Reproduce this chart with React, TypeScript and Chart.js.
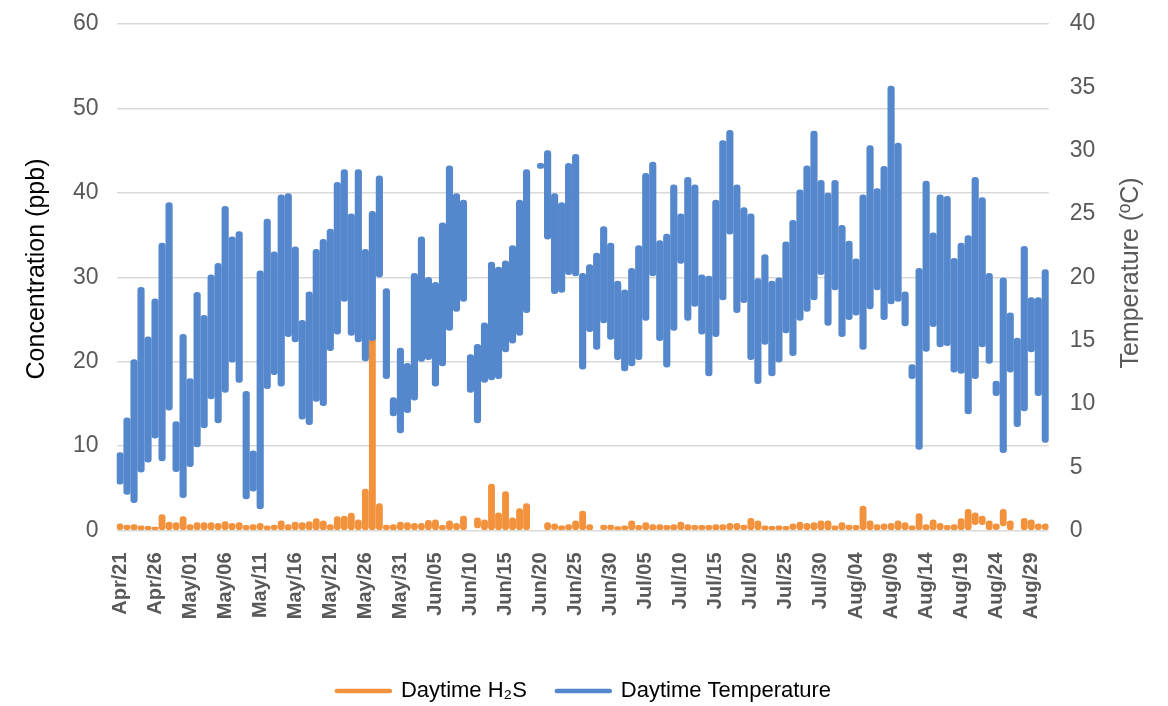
import React, { useEffect, useRef } from 'react';
import { Chart, registerables } from 'chart.js';

Chart.register(...registerables);

const FONT = '"Liberation Sans", Arial, Helvetica, sans-serif';
const BLUE = '#5487cc';
const ORANGE = '#f3923d';
const GRID = '#d9d9d9';
const TICK_GREY = '#595959';

// Categories: one per day, Apr 21 .. Aug 31
const MONTH_NAMES = ['Jan', 'Feb', 'Mar', 'Apr', 'May', 'Jun', 'Jul', 'Aug', 'Sep', 'Oct', 'Nov', 'Dec'];
const FIRST_DAY = { year: 2021, month: 3, day: 21 };
const DAY_COUNT = 133;
const LABEL_EVERY = 5;

const dayLabels: string[] = Array.from({ length: DAY_COUNT }, (_, i) => {
  const d = new Date(FIRST_DAY.year, FIRST_DAY.month, FIRST_DAY.day + i);
  return `${MONTH_NAMES[d.getMonth()]}/${String(d.getDate()).padStart(2, '0')}`;
});

// Daytime temperature range (°C), right axis
const tempMax: (number | null)[] = [
  6.15, 8.9, 13.5, 19.2, 15.3, 18.3, 22.7, 25.9, 8.6, 15.5,
  12.0, 18.8, 17.0, 20.2, 21.1, 25.6, 23.2, 23.6, 11.0, 6.3,
  20.5, 24.6, 22.0, 26.5, 26.6, 22.4, 16.6, 18.85, 22.2, 23.0,
  23.8, 27.5, 28.5, 25.0, 28.5, 22.2, 25.2, 28.0, 19.1, 10.5,
  14.4, 13.2, 20.3, 23.2, 20.0, 19.6, 24.3, 28.8, 26.6, 26.1,
  13.9, 14.7, 16.4, 21.2, 20.8, 21.3, 22.5, 26.1, 28.5, null,
  29.0, 30.0, 26.6, 25.9, 29.0, 29.7, 20.3, 21.0, 21.9, 24.0,
  22.7, 19.7, 19.0, 20.7, 22.5, 28.2, 29.1, 22.9, 23.4, 27.3,
  25.0, 27.9, 27.3, 20.2, 20.1, 26.1, 30.8, 31.6, 27.3, 25.5,
  25.0, 19.9, 21.8, 19.7, 19.95, 22.8, 24.5, 26.9, 28.8, 31.55,
  27.65, 26.65, 27.65, 24.1, 22.85, 21.45, 26.5, 30.4, 27.0, 28.75,
  35.1, 30.6, 18.85, 13.1, 20.7, 27.6, 23.5, 26.5, 26.4, 21.5,
  22.7, 23.3, 27.9, 26.3, 20.3, 11.8, 19.95, 17.2, 15.2, 22.45,
  18.4, 18.4, 20.6,
];
const tempMin: (number | null)[] = [
  3.65, 2.85, 2.2, 4.6, 5.4, 7.3, 5.5, 9.5, 4.65, 2.6,
  5.05, 6.6, 8.1, 10.4, 8.5, 10.9, 13.3, 11.7, 2.5, 3.1,
  1.7, 11.2, 12.3, 11.4, 15.3, 14.9, 8.8, 8.35, 10.2, 9.85,
  14.2, 15.5, 18.1, 15.4, 14.9, 13.4, 15.0, 20.0, 12.0, 9.05,
  7.7, 9.3, 10.3, 13.35, 13.5, 11.4, 13.0, 15.8, 17.3, 18.1,
  10.9, 8.5, 11.7, 11.9, 12.0, 14.1, 14.8, 15.4, 17.2, null,
  28.6, 23.0, 18.7, 18.8, 20.2, 20.1, 12.75, 15.7, 14.3, 16.4,
  15.1, 13.5, 12.6, 13.0, 13.5, 16.6, 20.1, 15.0, 12.9, 15.8,
  21.1, 16.6, 17.7, 15.5, 12.2, 15.3, 18.2, 23.4, 17.2, 18.0,
  13.5, 11.6, 14.7, 12.2, 13.3, 15.6, 13.8, 16.6, 17.3, 18.2,
  20.2, 16.2, 19.0, 15.3, 16.65, 17.0, 14.3, 17.5, 19.0, 16.65,
  17.9, 18.1, 16.15, 12.0, 6.4, 14.15, 16.1, 14.5, 14.6, 12.5,
  12.4, 9.2, 12.0, 14.5, 13.2, 10.65, 6.15, 12.5, 8.2, 9.45,
  14.1, 10.65, 6.95,
];

// Daytime H2S range (ppb), left axis
const h2sMax: (number | null)[] = [
  0.8, 0.65, 0.7, 0.55, 0.5, 0.4, 1.9, 1.0, 0.95, 1.65,
  0.7, 0.95, 0.95, 0.95, 0.85, 1.05, 0.85, 0.95, 0.6, 0.7,
  0.85, 0.55, 0.65, 1.15, 0.7, 1.0, 0.95, 1.05, 1.4, 1.15,
  0.7, 1.65, 1.7, 2.05, 1.25, 4.9, 26.4, 3.2, 0.65, 0.7,
  1.0, 0.95, 0.85, 0.85, 1.2, 1.25, 0.6, 1.15, 0.85, 1.7,
  null, 1.5, 1.25, 5.5, 2.1, 4.6, 1.5, 2.6, 3.2, null,
  null, 0.95, 0.8, 0.55, 0.7, 1.15, 2.3, 0.7, null, 0.65,
  0.65, 0.45, 0.55, 1.15, 0.6, 0.95, 0.7, 0.7, 0.6, 0.7,
  1.0, 0.7, 0.6, 0.6, 0.6, 0.7, 0.7, 0.85, 0.85, 0.65,
  1.45, 1.15, 0.55, 0.5, 0.55, 0.5, 0.8, 1.0, 0.85, 0.95,
  1.15, 1.15, 0.55, 0.95, 0.65, 0.6, 2.9, 1.15, 0.7, 0.8,
  0.85, 1.15, 0.95, 0.55, 2.0, 0.7, 1.25, 0.85, 0.6, 0.7,
  1.4, 2.5, 2.1, 1.7, 1.15, 0.8, 2.5, 1.15, null, 1.45,
  1.25, 0.8, 0.8,
];
const h2sMin: (number | null)[] = [
  0, 0, 0, 0, 0, 0, 0, 0, 0, 0,
  0, 0, 0, 0, 0, 0, 0, 0, 0, 0,
  0, 0, 0, 0, 0, 0, 0, 0, 0, 0,
  0, 0, 0, 0, 0, 0, 0, 0, 0, 0,
  0, 0, 0, 0, 0, 0, 0, 0, 0, 0,
  null, 0.3, 0, 0, 0, 0, 0, 0, 0, null,
  null, 0, 0, 0, 0, 0, 0, 0, null, 0,
  0, 0, 0, 0, 0, 0, 0, 0, 0, 0,
  0, 0, 0, 0, 0, 0, 0, 0, 0, 0,
  0, 0, 0, 0, 0, 0, 0, 0, 0, 0,
  0, 0, 0, 0, 0, 0, 0, 0, 0, 0,
  0, 0, 0, 0, 0, 0, 0, 0, 0, 0,
  0, 0, 0.7, 0.7, 0, 0, 0.55, 0, null, 0,
  0, 0, 0,
];

const CONC_AXIS = { min: 0, max: 60, step: 10 };
const TEMP_AXIS = { min: 0, max: 40, step: 5 };

const LEFT_TITLE = 'Concentration (ppb)';
const RIGHT_TITLE = 'Temperature (ºC)';
const H2S_LABEL = 'Daytime H₂S';
const TEMP_LABEL = 'Daytime Temperature';

const toRange = (lo: (number | null)[], hi: (number | null)[]) =>
  hi.map((v, i) => (v == null || lo[i] == null ? null : [lo[i] as number, v]));

const extrasPlugin = {
  id: 'extras',
  afterLayout(chart: any) {
    const l = chart.legend;
    if (l) {
      l.top += 6;
      l.bottom += 6;
    }
  },
  afterDraw(chart: any) {
    const { ctx } = chart;
    ctx.save();
    ctx.font = `25px ${FONT}`;
    ctx.textAlign = 'center';
    ctx.textBaseline = 'middle';
    ctx.fillStyle = '#000000';
    ctx.translate(37, 269);
    ctx.rotate(-Math.PI / 2);
    ctx.fillText(LEFT_TITLE, 0, 0);
    ctx.restore();

    ctx.save();
    ctx.font = `25px ${FONT}`;
    ctx.textAlign = 'center';
    ctx.textBaseline = 'middle';
    ctx.fillStyle = TICK_GREY;
    ctx.translate(1131, 273);
    ctx.rotate(-Math.PI / 2);
    ctx.fillText(RIGHT_TITLE, 0, 0);
    ctx.restore();
  },
};

const noVerticalOverhang = (s: any) => {
  s.paddingTop = 0;
  s.paddingBottom = 0;
};

export default function App() {
  const canvasRef = useRef<HTMLCanvasElement | null>(null);

  useEffect(() => {
    document.body.style.margin = '0';
    const canvas = canvasRef.current;
    if (!canvas) return;

    const chart = new Chart(canvas, {
      type: 'bar',
      data: {
        labels: dayLabels,
        datasets: [
          {
            label: TEMP_LABEL,
            data: toRange(tempMin, tempMax) as any,
            yAxisID: 'y1',
            backgroundColor: BLUE,
            borderWidth: 0,
            borderRadius: 3.3,
            borderSkipped: false,
            barThickness: 6.5,
            grouped: false,
          } as any,
          {
            label: H2S_LABEL,
            data: toRange(h2sMin, h2sMax) as any,
            yAxisID: 'y',
            backgroundColor: ORANGE,
            borderWidth: 0,
            borderRadius: 3.1,
            borderSkipped: false,
            barThickness: 6.2,
            grouped: false,
          } as any,
        ],
      },
      options: {
        responsive: false,
        animation: false,
        devicePixelRatio: 1,
        layout: { padding: { top: 24, left: 0, right: 0, bottom: 0 } },
        plugins: {
          tooltip: { enabled: false },
          legend: {
            position: 'bottom',
            labels: {
              usePointStyle: true,
              pointStyleWidth: 53,
              padding: 30,
              color: '#1f1f1f',
              font: { family: FONT, size: 22 },
              generateLabels: () => [
                {
                  text: H2S_LABEL,
                  fillStyle: ORANGE,
                  strokeStyle: ORANGE,
                  lineWidth: 4.5,
                  lineCap: 'round',
                  pointStyle: 'line',
                  hidden: false,
                  datasetIndex: 1,
                } as any,
                {
                  text: TEMP_LABEL,
                  fillStyle: BLUE,
                  strokeStyle: BLUE,
                  lineWidth: 4.5,
                  lineCap: 'round',
                  pointStyle: 'line',
                  hidden: false,
                  datasetIndex: 0,
                } as any,
              ],
            },
          },
        },
        scales: {
          x: {
            type: 'category',
            offset: true,
            grid: { display: false, drawTicks: false },
            border: { display: false },
            ticks: {
              autoSkip: false,
              maxRotation: 90,
              minRotation: 90,
              padding: 22,
              color: TICK_GREY,
              font: { family: FONT, size: 20, weight: 'bold' },
              callback: (_v: any, i: number) => (i % LABEL_EVERY === 0 ? dayLabels[i] : ''),
            },
            afterFit: (s: any) => {
              s.height = 113.5;
            },
          },
          y: {
            position: 'left',
            min: CONC_AXIS.min,
            max: CONC_AXIS.max,
            ticks: {
              stepSize: CONC_AXIS.step,
              padding: 18,
              color: TICK_GREY,
              font: { family: FONT, size: 23 },
            },
            grid: { color: GRID, lineWidth: 1.5, drawTicks: false },
            border: { display: false },
            afterFit: (s: any) => {
              s.width = 116.5;
              noVerticalOverhang(s);
            },
          },
          y1: {
            position: 'right',
            min: TEMP_AXIS.min,
            max: TEMP_AXIS.max,
            ticks: {
              stepSize: TEMP_AXIS.step,
              padding: 21,
              color: TICK_GREY,
              font: { family: FONT, size: 23 },
            },
            grid: { display: false, drawTicks: false },
            border: { display: false },
            afterFit: (s: any) => {
              s.width = 119.2;
              noVerticalOverhang(s);
            },
          },
        },
      } as any,
      plugins: [extrasPlugin],
    });

    return () => chart.destroy();
  }, []);

  return (
    <div style={{ width: 1168, height: 706, background: '#ffffff' }}>
      <canvas ref={canvasRef} width={1168} height={706} style={{ display: 'block' }} />
    </div>
  );
}
